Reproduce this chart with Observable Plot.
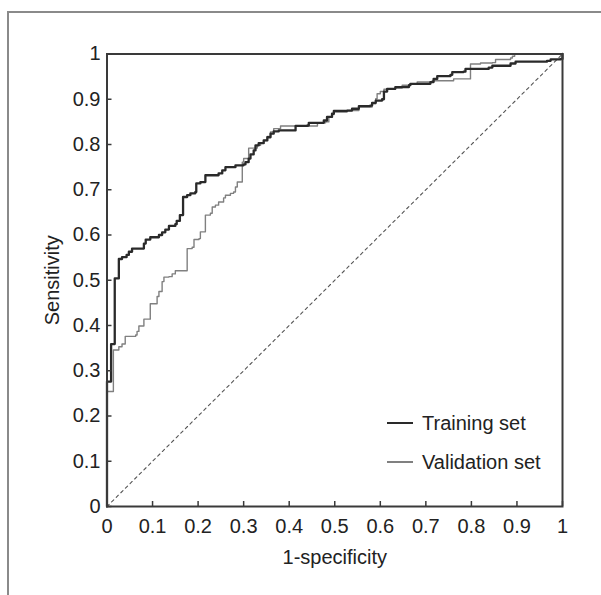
<!DOCTYPE html>
<html>
<head>
<meta charset="utf-8">
<script src="https://cdn.jsdelivr.net/npm/d3@7"></script>
<script src="https://cdn.jsdelivr.net/npm/@observablehq/plot@0.6"></script>
<style>
  html, body { margin: 0; padding: 0; background: #fff; }
  #wrap { position: relative; width: 601px; height: 595px; overflow: hidden; font-family: "Liberation Sans", Arial, sans-serif; }
  #border { position: absolute; left: 7px; top: 11px; width: 700px; height: 700px; border: 2px solid #8a8a8a; pointer-events: none; }
  .leg { position: absolute; font-size: 20px; color: #222; white-space: nowrap; }
  .legline { position: absolute; }
</style>
</head>
<body>
<div id="wrap"></div>
<script>
// Tick values and labels
const xTicks = [0, 0.1, 0.2, 0.3, 0.4, 0.5, 0.6, 0.7, 0.8, 0.9, 1];
const xTickLabels = ["0", "0.1", "0.2", "0.3", "0.4", "0.5", "0.6", "0.7", "0.8", "0.9", "1"];
const yTicks = [0, 0.1, 0.2, 0.3, 0.4, 0.5, 0.6, 0.7, 0.8, 0.9, 1];
const yTickLabels = ["0", "0.1", "0.2", "0.3", "0.4", "0.5", "0.6", "0.7", "0.8", "0.9", "1"];
const seriesNames = ["Training set", "Validation set"];

// Training set ROC (1-specificity, sensitivity)
const trainFpr = [0,0,0.009,0.009,0.017,0.017,0.026,0.026,0.033,0.043,0.048,0.055,0.077,0.081,0.085,0.095,0.106,0.114,0.121,0.128,0.136,0.150,0.153,0.160,0.167,0.167,0.176,0.183,0.194,0.196,0.205,0.216,0.234,0.245,0.253,0.260,0.271,0.282,0.300,0.304,0.311,0.315,0.322,0.326,0.333,0.344,0.352,0.359,0.366,0.377,0.410,0.414,0.440,0.443,0.476,0.483,0.494,0.498,0.527,0.538,0.553,0.578,0.582,0.590,0.604,0.608,0.615,0.633,0.663,0.666,0.710,0.717,0.725,0.754,0.758,0.783,0.787,0.838,0.846,0.875,0.886,0.897,0.966,0.974,0.996,1,1];
const trainTpr = [0,0.276,0.276,0.359,0.359,0.504,0.504,0.547,0.551,0.556,0.563,0.570,0.570,0.581,0.590,0.595,0.595,0.600,0.606,0.612,0.620,0.624,0.631,0.644,0.649,0.684,0.688,0.692,0.695,0.714,0.717,0.732,0.732,0.736,0.743,0.750,0.750,0.754,0.756,0.761,0.769,0.778,0.787,0.798,0.803,0.809,0.816,0.824,0.829,0.831,0.831,0.841,0.842,0.848,0.853,0.861,0.868,0.874,0.875,0.879,0.885,0.886,0.892,0.897,0.900,0.917,0.923,0.927,0.931,0.934,0.938,0.945,0.951,0.954,0.960,0.961,0.967,0.970,0.974,0.974,0.979,0.983,0.985,0.988,0.989,0.990,1];

// Validation set ROC
const validFpr = [0,0,0.014,0.014,0.022,0.026,0.033,0.040,0.040,0.052,0.063,0.066,0.070,0.081,0.081,0.095,0.095,0.106,0.110,0.114,0.121,0.121,0.125,0.136,0.143,0.150,0.176,0.176,0.187,0.191,0.202,0.205,0.216,0.216,0.227,0.231,0.238,0.245,0.256,0.260,0.271,0.278,0.282,0.286,0.297,0.297,0.300,0.311,0.311,0.322,0.330,0.337,0.344,0.352,0.359,0.366,0.381,0.440,0.462,0.462,0.480,0.487,0.487,0.494,0.498,0.527,0.553,0.578,0.582,0.590,0.593,0.600,0.608,0.633,0.648,0.666,0.681,0.714,0.758,0.761,0.798,0.798,0.820,0.846,0.853,0.886,0.890,0.895,1];
const validTpr = [0,0.254,0.254,0.346,0.346,0.353,0.359,0.368,0.376,0.376,0.379,0.387,0.399,0.401,0.414,0.416,0.448,0.448,0.464,0.475,0.475,0.497,0.507,0.508,0.514,0.521,0.521,0.570,0.573,0.590,0.592,0.607,0.622,0.644,0.648,0.662,0.666,0.673,0.682,0.688,0.692,0.695,0.706,0.717,0.720,0.761,0.769,0.772,0.792,0.792,0.798,0.803,0.809,0.818,0.828,0.835,0.841,0.841,0.842,0.848,0.850,0.853,0.861,0.866,0.872,0.875,0.883,0.883,0.890,0.901,0.912,0.917,0.922,0.925,0.931,0.934,0.938,0.941,0.941,0.945,0.947,0.978,0.980,0.981,0.988,0.991,0.995,1,1];

// Reference diagonal
const diagX = [0, 1];
const diagY = [0, 1];

const train = trainFpr.map((x, i) => ({x, y: trainTpr[i]}));
const valid = validFpr.map((x, i) => ({x, y: validTpr[i]}));
const diag = diagX.map((x, i) => ({x, y: diagY[i]}));

const chart = Plot.plot({
  width: 601,
  height: 595,
  marginLeft: 106.5,
  marginRight: 39,
  marginTop: 53.5,
  marginBottom: 89,
  style: {fontFamily: "'Liberation Sans', Arial, sans-serif", fontSize: "20px", color: "#222", background: "transparent"},
  x: {domain: [0, 1]},
  y: {domain: [0, 1]},
  marks: [
    Plot.line(diag, {x: "x", y: "y", stroke: "#555", strokeWidth: 1.1, strokeDasharray: "3,3.5"}),
    Plot.line(valid, {x: "x", y: "y", curve: "step-after", stroke: "#808080", strokeWidth: 1.4}),
    Plot.line(train, {x: "x", y: "y", curve: "step-after", stroke: "#2a2a2a", strokeWidth: 2.3}),
    Plot.frame({stroke: "#3a3a3a", strokeWidth: 2}),
    Plot.axisX({ticks: xTicks, tickFormat: (d, i) => xTickLabels[i], tickSize: -5, tickPadding: 17, stroke: "#3a3a3a", strokeWidth: 1.5,
      label: "1-specificity", labelAnchor: "center", labelOffset: 57, labelArrow: "none", fill: "#222"}),
    Plot.axisY({ticks: yTicks, tickFormat: (d, i) => yTickLabels[i], tickSize: -5, tickPadding: 11.5, stroke: "#3a3a3a", strokeWidth: 1.5,
      label: "Sensitivity", labelAnchor: "center", labelOffset: 62, labelArrow: "none", fill: "#222"})
  ]
});

const wrap = document.getElementById("wrap");
chart.style.position = "absolute";
chart.style.left = "0px";
chart.style.top = "0px";
wrap.appendChild(chart);

// Legend
const legItems = [
  {name: seriesNames[0], color: "#2a2a2a", w: 2.3, top: 423},
  {name: seriesNames[1], color: "#808080", w: 1.4, top: 462}
];
legItems.forEach(it => {
  const ln = document.createElement("div");
  ln.className = "legline";
  ln.style.left = "387px";
  ln.style.width = "26px";
  ln.style.top = (it.top - it.w / 2) + "px";
  ln.style.height = it.w + "px";
  ln.style.background = it.color;
  wrap.appendChild(ln);
  const tx = document.createElement("div");
  tx.className = "leg";
  tx.textContent = it.name;
  tx.style.left = "422px";
  tx.style.top = (it.top - 12) + "px";
  tx.style.lineHeight = "24px";
  wrap.appendChild(tx);
});

const b = document.createElement("div");
b.id = "border";
wrap.appendChild(b);
</script>
</body>
</html>
